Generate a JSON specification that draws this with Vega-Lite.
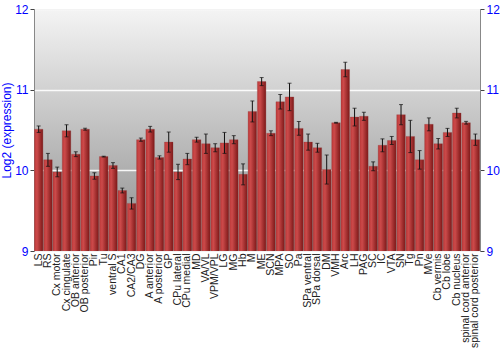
{
  "$schema": "https://vega.github.io/schema/vega-lite/v6.json",
  "width": 446,
  "height": 242,
  "autosize": {"type": "none"},
  "padding": {"left": 34, "top": 9, "right": 20, "bottom": 99},
  "background": "white",
  "config": {
    "view": {
      "stroke": "#888888",
      "strokeWidth": 1,
      "fill": {"gradient": "linear", "x1": 0, "y1": 0, "x2": 0, "y2": 1, "stops": [{"offset": 0, "color": "#f4f4f4"}, {"offset": 1, "color": "#8c8c8c"}]}
    },
    "font": "Liberation Sans"
  },
  "data": {
    "values": [
      {"region": "LS", "value": 10.51, "err": 0.04},
      {"region": "RS", "value": 10.13, "err": 0.08},
      {"region": "Cx motor", "value": 9.98, "err": 0.06},
      {"region": "Cx cingulate", "value": 10.49, "err": 0.075},
      {"region": "OB anterior", "value": 10.2, "err": 0.03},
      {"region": "OB posterior", "value": 10.51, "err": 0.012},
      {"region": "Pir", "value": 9.93, "err": 0.04},
      {"region": "Tu", "value": 10.17, "err": 0.005},
      {"region": "ventral S", "value": 10.06, "err": 0.035},
      {"region": "CA1", "value": 9.75, "err": 0.03},
      {"region": "CA2/CA3", "value": 9.59, "err": 0.07},
      {"region": "DG", "value": 10.38, "err": 0.02},
      {"region": "A anterior", "value": 10.51, "err": 0.035},
      {"region": "A posterior", "value": 10.16, "err": 0.02},
      {"region": "GP", "value": 10.35, "err": 0.125},
      {"region": "CPu lateral", "value": 9.98, "err": 0.095},
      {"region": "CPu medial", "value": 10.14, "err": 0.07},
      {"region": "MD", "value": 10.38, "err": 0.03},
      {"region": "VA/VL", "value": 10.33, "err": 0.12},
      {"region": "VPM/VPL", "value": 10.28, "err": 0.05},
      {"region": "LG", "value": 10.34, "err": 0.13},
      {"region": "MG", "value": 10.38, "err": 0.05},
      {"region": "Hb", "value": 9.95, "err": 0.13},
      {"region": "M", "value": 10.73, "err": 0.13},
      {"region": "ME", "value": 11.1, "err": 0.05},
      {"region": "SCN", "value": 10.46, "err": 0.03},
      {"region": "MPA", "value": 10.85, "err": 0.09},
      {"region": "SO", "value": 10.91, "err": 0.17},
      {"region": "Pa", "value": 10.52, "err": 0.085},
      {"region": "SPa ventral", "value": 10.35, "err": 0.1},
      {"region": "SPa dorsal", "value": 10.28, "err": 0.055},
      {"region": "DM", "value": 10.01, "err": 0.18},
      {"region": "VMH", "value": 10.59, "err": 0.005},
      {"region": "Arc", "value": 11.25, "err": 0.09},
      {"region": "LH", "value": 10.66, "err": 0.11},
      {"region": "PAG", "value": 10.67, "err": 0.05},
      {"region": "SC", "value": 10.05, "err": 0.055},
      {"region": "IC", "value": 10.31, "err": 0.08},
      {"region": "VTA", "value": 10.37, "err": 0.05},
      {"region": "SN", "value": 10.69, "err": 0.125},
      {"region": "Tg", "value": 10.42, "err": 0.2},
      {"region": "Pn", "value": 10.13, "err": 0.115},
      {"region": "MVe", "value": 10.57, "err": 0.08},
      {"region": "Cb vermis", "value": 10.33, "err": 0.065},
      {"region": "Cb lobe", "value": 10.47, "err": 0.05},
      {"region": "Cb nucleus", "value": 10.71, "err": 0.06},
      {"region": "spinal cord anterior", "value": 10.59, "err": 0.017},
      {"region": "spinal cord posterior", "value": 10.38, "err": 0.07}
    ]
  },
  "layer": [
    {
      "mark": {
        "type": "bar",
        "clip": true,
        "stroke": "#904040",
        "strokeOpacity": 0.5,
        "strokeWidth": 0.6,
        "color": {"gradient": "linear", "x1": 0, "y1": 0, "x2": 1, "y2": 0, "stops": [{"offset": 0, "color": "#bd3838"}, {"offset": 0.3, "color": "#cc4a4a"}, {"offset": 1, "color": "#7d1818"}]}
      },
      "encoding": {
        "x": {
          "field": "region", "type": "nominal", "sort": null,
          "scale": {"paddingInner": 0.08, "paddingOuter": 0.04},
          "axis": {"title": null, "labelAngle": 270, "domain": false, "ticks": false, "labelPadding": 2, "labelFontSize": 10.5, "labelColor": "#222222", "labelFont": "Liberation Sans", "labelLimit": 120}
        },
        "y": {
          "field": "value", "type": "quantitative",
          "scale": {"domain": [9, 12], "nice": false, "zero": false},
          "axis": {"title": "Log2 (expression)", "titleColor": "#0000ff", "titleFontSize": 12, "titleFontWeight": "normal", "titleFont": "Liberation Sans", "titlePadding": 1, "values": [9, 10, 11, 12], "labelColor": "#0000ff", "labelFontSize": 12, "labelFont": "Liberation Sans", "domainColor": "#888888", "tickColor": "#444444", "tickSize": 4, "grid": true, "gridColor": "#ffffff", "gridOpacity": 0.9, "gridWidth": 1.5, "labelPadding": 2}
        }
      }
    },
    {
      "mark": {"type": "errorbar", "ticks": {"size": 4, "color": "#111111"}, "rule": {"color": "#111111", "strokeWidth": 1}},
      "encoding": {
        "x": {"field": "region", "type": "nominal", "sort": null},
        "y": {
          "field": "value", "type": "quantitative",
          "scale": {"domain": [9, 12], "nice": false, "zero": false},
          "axis": {"orient": "right", "title": null, "values": [9, 10, 11, 12], "labelColor": "#0000ff", "labelFontSize": 12, "labelFont": "Liberation Sans", "domainColor": "#888888", "tickColor": "#444444", "tickSize": 4, "grid": false, "labelPadding": 2}
        },
        "yError": {"field": "err"}
      }
    }
  ],
  "resolve": {"axis": {"y": "independent"}}
}
